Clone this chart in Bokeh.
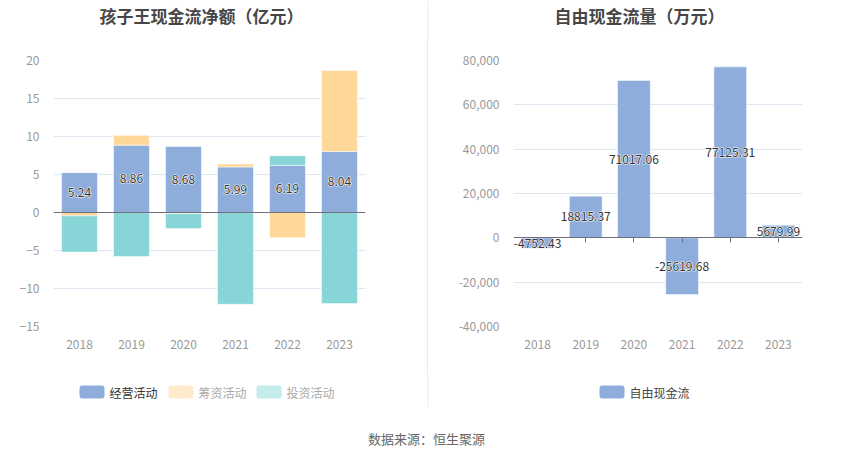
from bokeh.plotting import figure
from bokeh.models import Range1d, FixedTicker, NumeralTickFormatter, CategoricalAxis, Span, ColumnDataSource, Spacer
from bokeh.layouts import column, row
from bokeh.embed import file_html
from bokeh.resources import INLINE
from bokeh.core.properties import value

# ---------------- data ----------------
years = ["2018", "2019", "2020", "2021", "2022", "2023"]
operating = [5.24, 8.86, 8.68, 5.99, 6.19, 8.04]
financing = [-0.44, 1.29, -0.15, 0.40, -3.33, 10.65]
investing = [-4.77, -5.78, -1.96, -12.08, 1.29, -11.99]
flow_names = ["经营活动", "筹资活动", "投资活动"]
fcf = [-4752.43, 18815.37, 71017.06, -25619.68, 77125.31, 5679.99]
fcf_name = "自由现金流"
left_ticks = [-15, -10, -5, 0, 5, 10, 15, 20]
right_ticks = [-40000, -20000, 0, 20000, 40000, 60000, 80000]
title_left = "孩子王现金流净额（亿元）"
title_right = "自由现金流量（万元）"
source_note = "数据来源：恒生聚源"

# ---------------- style ----------------
FONT = "Noto Sans CJK SC"
C_OP, C_FIN, C_INV = "#8eaddb", "#ffd899", "#88d5d8"
C_LEG = ["#8eaddb", "#ffebcc", "#c3ebec"]
GRID = "#e0e6f1"
AXIS = "#6e7079"
LABEL_GREY = "#999999"
SEP = "#ebebeb"


def stack(series_list):
    n = len(series_list[0])
    pos = [0.0] * n
    neg = [0.0] * n
    out = []
    for s in series_list:
        bottoms, tops = [], []
        for i, v in enumerate(s):
            if v >= 0:
                b = pos[i]; t = b + v; pos[i] = t
            else:
                b = neg[i]; t = b + v; neg[i] = t
            bottoms.append(b); tops.append(t)
        out.append((bottoms, tops))
    return out


def style_axes(p):
    p.outline_line_color = None
    p.xgrid.visible = False
    p.ygrid.grid_line_color = GRID
    for ax in p.yaxis:
        ax.axis_line_color = None
        ax.major_tick_line_color = None
        ax.minor_tick_line_color = None
        ax.major_label_standoff = 8
        ax.major_label_text_color = LABEL_GREY
        ax.major_label_text_font = FONT
        ax.major_label_text_font_size = "12px"
    for ax in p.xaxis:
        ax.axis_line_color = None
        ax.major_tick_line_color = None
        ax.major_label_standoff = 7
        ax.major_label_text_color = LABEL_GREY
        ax.major_label_text_font = FONT
        ax.major_label_text_font_size = "12px"


def overlay_fig(width, height, y_top, y_bottom, x_left=0, x_right=850):
    f = figure(width=width, height=height, x_range=Range1d(x_left, x_right),
               y_range=Range1d(y_bottom, y_top), output_backend="svg",
               toolbar_location=None, min_border=0,
               x_axis_location=None, y_axis_location=None)
    f.outline_line_color = None
    f.grid.visible = False
    return f


def halo_labels(p, src):
    # white halo underneath, dark text on top
    p.text(x="x", y="y", text="t", source=src, text_align="center", text_baseline="middle",
           text_font=value(FONT), text_font_size="12px", text_color="white",
           text_outline_color="white")
    p.text(x="x", y="y", text="t", source=src, text_align="center", text_baseline="middle",
           text_font=value(FONT), text_font_size="12px", text_color="#333333")

# ---------------- left chart ----------------
p1 = figure(x_range=years, y_range=Range1d(-15, 20), width=427, height=337,
            output_backend="svg", toolbar_location=None,
            min_border_left=53, min_border_right=62, min_border_top=22, min_border_bottom=49)
stacks = stack([operating, financing, investing])
for (b, t), col in zip(stacks, [C_OP, C_FIN, C_INV]):
    src = ColumnDataSource(dict(x=years, bottom=b, top=t))
    p1.vbar(x="x", bottom="bottom", top="top", width=0.69, source=src,
            fill_color=col, line_color="white", line_alpha=0.5, line_width=1)
p1.yaxis.ticker = FixedTicker(ticks=left_ticks)
style_axes(p1)
p1.add_layout(Span(location=0, dimension="width", line_color=AXIS, line_width=1))
lab1 = ColumnDataSource(dict(x=years, y=[v / 2 for v in operating], t=[f"{v:.2f}" for v in operating]))
halo_labels(p1, lab1)

# ---------------- right chart ----------------
p2 = figure(x_range=years, y_range=Range1d(-40000, 80000), width=422, height=337,
            output_backend="svg", toolbar_location=None,
            min_border_left=85, min_border_right=48, min_border_top=22, min_border_bottom=48)
src2 = ColumnDataSource(dict(x=years, top=fcf))
p2.vbar(x="x", bottom=0, top="top", width=0.68, source=src2,
        fill_color=C_OP, line_color="white", line_alpha=0.5, line_width=1)
p2.yaxis.ticker = FixedTicker(ticks=right_ticks)
p2.yaxis.formatter = NumeralTickFormatter(format="0,0")
style_axes(p2)
zero_axis = CategoricalAxis(fixed_location=0, axis_line_color=AXIS, major_tick_line_color=AXIS,
                            major_tick_out=5, major_tick_in=0, major_label_text_color=None,
                            major_label_text_font_size="1px", major_label_standoff=0)
p2.add_layout(zero_axis, "below")
lab2 = ColumnDataSource(dict(x=years, y=[v / 2 for v in fcf], t=[f"{v:.2f}" for v in fcf]))
halo_labels(p2, lab2)

# ---------------- titles (page coordinates) ----------------
top = overlay_fig(850, 38, 0, 38)
top.text(x=[201, 639], y=[15, 15], text=[title_left, title_right], text_align="center",
         text_baseline="middle", text_font=value(FONT), text_font_size="17px",
         text_font_style="bold", text_color="#464646")
top.segment(x0=[427.5], y0=[0], x1=[427.5], y1=[38], line_color=SEP, line_width=1)

sep = Spacer(width=1, height=337, styles={"background-color": SEP})

# ---------------- legends + footer (page coordinates) ----------------
bot = overlay_fig(850, 84, 375, 459)
bot.segment(x0=[427.5], y0=[375], x1=[427.5], y1=[407], line_color=SEP, line_width=1)
sw_left = [79, 168, 256, 599]
sw_cols = C_LEG + [C_OP]
bot.quad(left=sw_left, right=[x + 25 for x in sw_left], top=[385] * 4, bottom=[398] * 4,
         fill_color=sw_cols, line_color=None, border_radius=3)
bot.text(x=[x + 30 for x in sw_left], y=[391.5] * 4, text=flow_names + [fcf_name],
         text_align="left", text_baseline="middle", text_font=value(FONT), text_font_size="12px",
         text_color=["#333333", "#aaaaaa", "#aaaaaa", "#444444"])
bot.text(x=[426], y=[438], text=[source_note], text_align="center", text_baseline="middle",
         text_font=value(FONT), text_font_size="13px", text_color="#666666")

layout = column(top, row(p1, sep, p2), bot)
open("out.html", "w").write(file_html(layout, INLINE))
